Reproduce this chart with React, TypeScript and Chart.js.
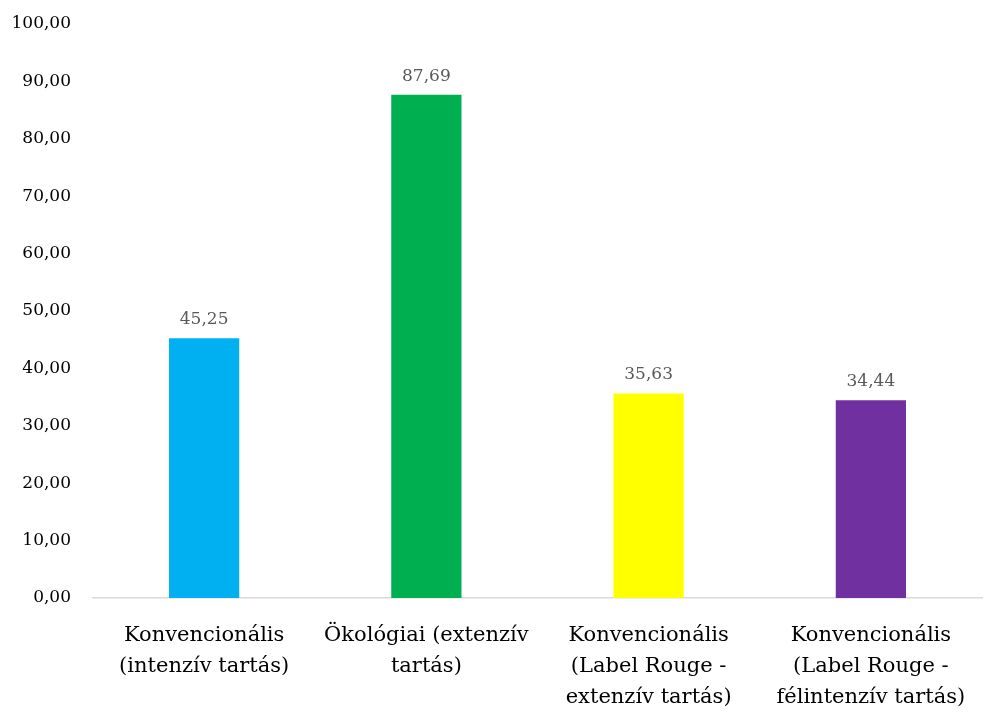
import React, { useEffect, useRef } from "react";
import { Chart, registerables } from "chart.js";

Chart.register(...registerables);

const categories: string[][] = [
  ["Konvencionális", "(intenzív tartás)"],
  ["Ökológiai (extenzív", "tartás)"],
  ["Konvencionális", "(Label Rouge -", "extenzív tartás)"],
  ["Konvencionális", "(Label Rouge -", "félintenzív tartás)"],
];
const values: number[] = [45.25, 87.69, 35.63, 34.44];
const barColors: string[] = ["#00B0F0", "#00B050", "#FFFF00", "#7030A0"];

const FONT = "'DejaVu Serif', serif";
const fmt = (v: number) => v.toFixed(2).replace(".", ",");

const valueLabels = {
  id: "valueLabels",
  afterDatasetsDraw(chart: any) {
    const ctx = chart.ctx;
    const meta = chart.getDatasetMeta(0);
    ctx.save();
    ctx.font = `17px ${FONT}`;
    ctx.fillStyle = "#595959";
    ctx.textAlign = "center";
    ctx.textBaseline = "bottom";
    meta.data.forEach((bar: any, i: number) => {
      ctx.fillText(fmt(values[i]), bar.x, bar.y - 10);
    });
    ctx.restore();
  },
};

export default function App() {
  const ref = useRef<HTMLCanvasElement | null>(null);
  useEffect(() => {
    if (!ref.current) return;
    const chart = new Chart(ref.current, {
      type: "bar",
      data: {
        labels: categories,
        datasets: [
          {
            data: values,
            backgroundColor: barColors,
            categoryPercentage: 1,
            barPercentage: 0.316,
          },
        ],
      },
      options: {
        responsive: false,
        animation: false,
        layout: { padding: { top: 24, right: 7, left: 0, bottom: 0 } },
        plugins: { legend: { display: false }, tooltip: { enabled: false } },
        scales: {
          y: {
            min: 0,
            max: 100,
            afterFit: (s: any) => {
              s.width = 93;
              s.paddingTop = 0;
              s.paddingBottom = 0;
            },
            ticks: {
              stepSize: 10,
              color: "#000",
              padding: 22,
              font: { family: FONT, size: 17 },
              callback: (v: any) => fmt(Number(v)),
            },
            grid: { display: false, drawTicks: false },
            border: { display: false },
          },
          x: {
            afterFit: (s: any) => {
              s.height = 117;
            },
            ticks: {
              color: "#000",
              padding: 22,
              maxRotation: 0,
              autoSkip: false,
              font: { family: FONT, size: 21, lineHeight: 1.48 },
            },
            grid: { display: false, drawTicks: false },
            border: { display: true, color: "#D9D9D9", width: 1.5 },
          },
        },
      },
      plugins: [valueLabels],
    });
    return () => chart.destroy();
  }, []);
  return (
    <div style={{ position: "absolute", left: 0, top: 0, width: 989, height: 715, background: "#fff" }}>
      <canvas ref={ref} width={989} height={715} />
    </div>
  );
}
